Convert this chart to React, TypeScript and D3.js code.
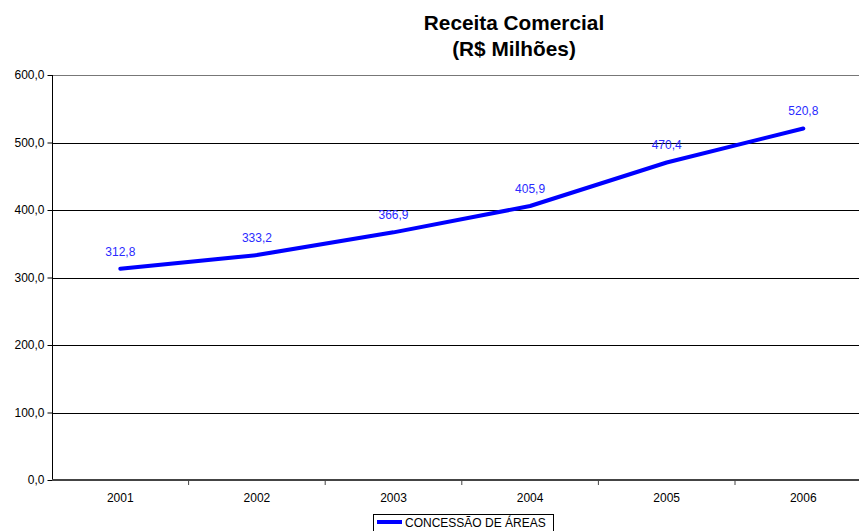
import { useEffect, useRef } from 'react';
import * as d3 from 'd3';

const years = ['2001', '2002', '2003', '2004', '2005', '2006'];
const receita = [312.8, 333.2, 366.9, 405.9, 470.4, 520.8];
const yTicks = [0, 100, 200, 300, 400, 500, 600];
const seriesName = 'CONCESSÃO DE ÁREAS';
const titleLines = ['Receita Comercial', '(R$ Milhões)'];

const fmt = (v: number) => v.toFixed(1).replace('.', ',');

export default function App() {
  const svgRef = useRef<SVGSVGElement>(null);
  const width = 859;
  const height = 531;

  useEffect(() => {
    if (!svgRef.current) return;
    const svg = d3.select(svgRef.current);
    svg.selectAll('*').remove();

    const left = 52;
    const band = 136.6;
    const top = 75;
    const bottom = 480;
    const font = 'Liberation Sans, Arial, sans-serif';

    const x = d3.scaleBand()
      .domain(years)
      .range([left, left + band * years.length]);

    const y = d3.scaleLinear()
      .domain([0, 600])
      .range([bottom, top]);

    // title
    svg.append('g')
      .selectAll('text')
      .data(titleLines)
      .enter().append('text')
      .attr('x', 514)
      .attr('y', (_, i) => 30 + i * 26)
      .attr('text-anchor', 'middle')
      .attr('font-family', font)
      .attr('font-weight', 'bold')
      .attr('font-size', 20.8)
      .text(d => d);

    // gridlines
    svg.append('g')
      .selectAll('line')
      .data(yTicks.filter(t => t > 0))
      .enter().append('line')
      .attr('x1', left)
      .attr('x2', width)
      .attr('y1', d => Math.round(y(d)) + 0.5)
      .attr('y2', d => Math.round(y(d)) + 0.5)
      .attr('stroke', d => (d === 600 ? '#777' : '#000'))
      .attr('stroke-width', 1);

    // y axis
    const yAxis = svg.append('g')
      .attr('transform', `translate(${left + 0.5},0)`)
      .call(d3.axisLeft(y).tickValues(yTicks).tickSize(5).tickPadding(3).tickFormat(d => fmt(+d)));
    yAxis.select('.domain').attr('stroke', '#000').attr('d', `M0,${top}V${bottom}`);
    yAxis.selectAll('.tick line').attr('stroke', '#000');
    yAxis.selectAll('text')
      .attr('font-family', font)
      .attr('font-size', 12)
      .attr('fill', '#000');

    // x axis
    const xAxis = svg.append('g')
      .attr('transform', `translate(0,${bottom})`);
    xAxis.append('line')
      .attr('x1', left)
      .attr('x2', width)
      .attr('stroke', '#444')
      .attr('stroke-width', 2);
    xAxis.selectAll('.sep')
      .data(years.slice(1))
      .enter().append('line')
      .attr('class', 'sep')
      .attr('x1', d => x(d)!)
      .attr('x2', d => x(d)!)
      .attr('y1', 0)
      .attr('y2', 5)
      .attr('stroke', '#444');
    xAxis.selectAll('.lbl')
      .data(years)
      .enter().append('text')
      .attr('class', 'lbl')
      .attr('x', d => x(d)! + x.bandwidth() / 2)
      .attr('y', 22)
      .attr('text-anchor', 'middle')
      .attr('font-family', font)
      .attr('font-size', 12)
      .text(d => d);

    // line
    const line = d3.line<number>()
      .x((_, i) => x(years[i])! + x.bandwidth() / 2)
      .y(d => y(d));

    svg.append('path')
      .datum(receita)
      .attr('d', line)
      .attr('fill', 'none')
      .attr('stroke', '#0000ff')
      .attr('stroke-width', 4)
      .attr('stroke-linecap', 'round')
      .attr('stroke-linejoin', 'round');

    // data labels
    svg.append('g')
      .selectAll('text')
      .data(receita)
      .enter().append('text')
      .attr('x', (_, i) => x(years[i])! + x.bandwidth() / 2)
      .attr('y', d => y(d) - 13)
      .attr('text-anchor', 'middle')
      .attr('font-family', font)
      .attr('font-size', 12)
      .attr('fill', '#2a2aff')
      .text(d => fmt(d));

    // legend
    const lg = svg.append('g');
    lg.append('rect')
      .attr('x', 373.5)
      .attr('y', 514.5)
      .attr('width', 180)
      .attr('height', 24)
      .attr('fill', '#fff')
      .attr('stroke', '#000');
    lg.append('line')
      .attr('x1', 377)
      .attr('x2', 402)
      .attr('y1', 522)
      .attr('y2', 522)
      .attr('stroke', '#0000ff')
      .attr('stroke-width', 4);
    lg.append('text')
      .attr('x', 405)
      .attr('y', 527)
      .attr('font-family', font)
      .attr('font-size', 12)
      .text(seriesName);
  }, []);

  return (
    <div style={{ position: 'absolute', left: 0, top: 0, width, height, overflow: 'hidden', background: '#fff' }}>
      <svg ref={svgRef} width={width} height={height} style={{ display: 'block' }} />
    </div>
  );
}
